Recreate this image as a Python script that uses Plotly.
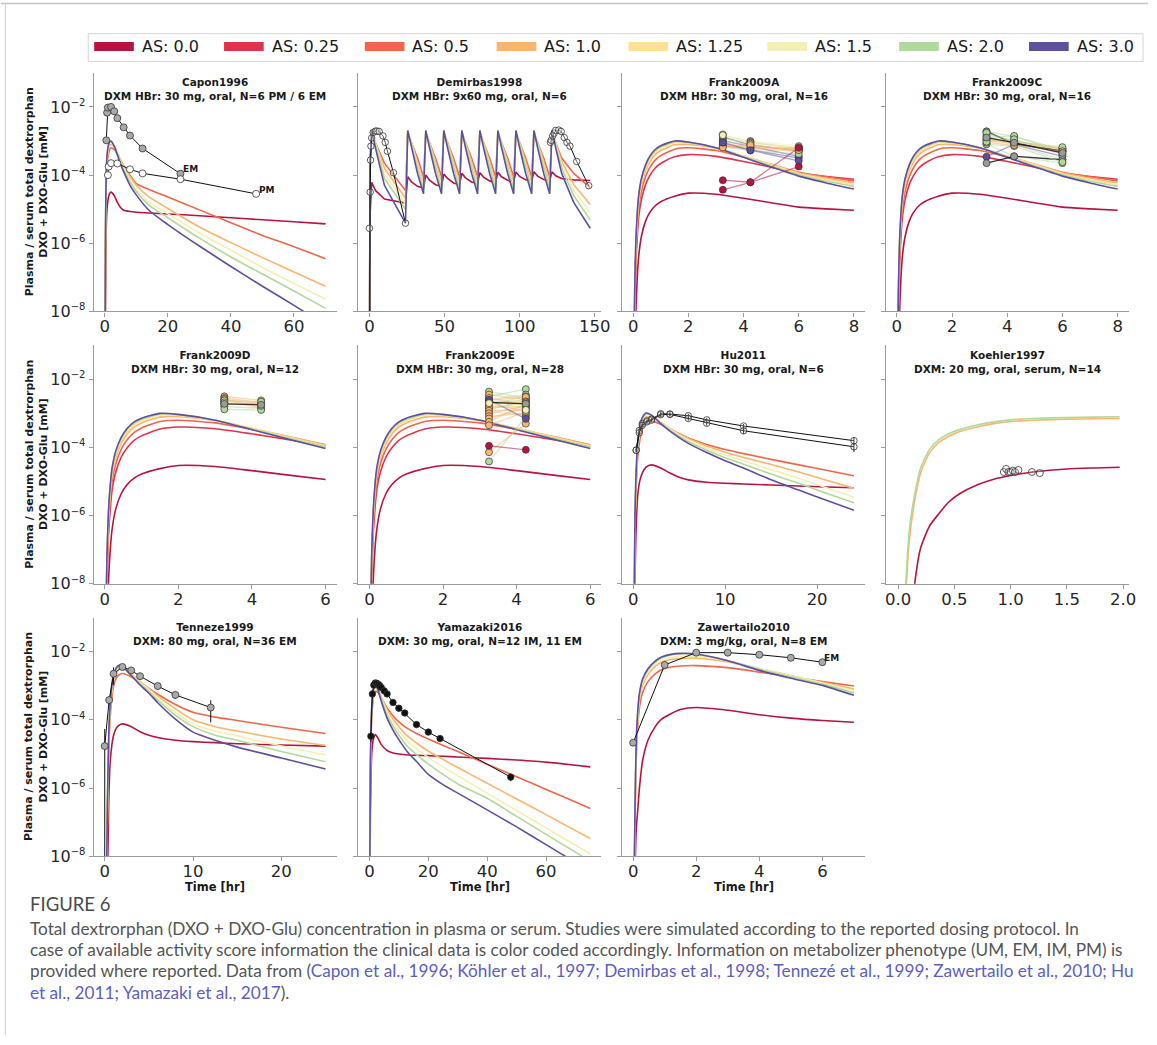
import numpy as np
import plotly.graph_objects as go

W, H = 1157, 1045

# ---------------------------------------------------------------- categories
AS_LEVELS = [0.0, 0.25, 0.5, 1.0, 1.25, 1.5, 2.0, 3.0]
AS_LABELS = ["AS: 0.0", "AS: 0.25", "AS: 0.5", "AS: 1.0", "AS: 1.25", "AS: 1.5", "AS: 2.0", "AS: 3.0"]
AS_COLORS = ["#b8133f", "#e2324b", "#f1654a", "#fdb46c", "#fee290", "#f4efb4", "#b0d99c", "#5e4fa2"]

PANEL_NAMES = ["Capon1996", "Demirbas1998", "Frank2009A", "Frank2009C", "Frank2009D", "Frank2009E",
               "Hu2011", "Koehler1997", "Tenneze1999", "Yamazaki2016", "Zawertailo2010"]
PANEL_SUBTITLES = ["DXM HBr: 30 mg, oral, N=6 PM / 6 EM", "DXM HBr: 9x60 mg, oral, N=6",
                   "DXM HBr: 30 mg, oral, N=16", "DXM HBr: 30 mg, oral, N=16",
                   "DXM HBr: 30 mg, oral, N=12", "DXM HBr: 30 mg, oral, N=28",
                   "DXM HBr: 30 mg, oral, N=6", "DXM: 20 mg, oral, serum, N=14",
                   "DXM: 80 mg, oral, N=36 EM", "DXM: 30 mg, oral, N=12 IM, 11 EM",
                   "DXM: 3 mg/kg, oral, N=8 EM"]
PANEL_XRANGES = [[-3.5, 73.5], [-7.35, 154.35], [-0.4, 8.4], [-0.4, 8.4], [-0.3, 6.3], [-0.3, 6.3],
                 [-1.2, 25.2], [-0.11, 2.05], [-1.25, 26.25], [-3.75, 78.75], [-0.35, 7.35]]
PANEL_XTICKS = [[0, 20, 40, 60], [0, 50, 100, 150], [0, 2, 4, 6, 8], [0, 2, 4, 6, 8], [0, 2, 4, 6],
                [0, 2, 4, 6], [0, 10, 20], [0.0, 0.5, 1.0, 1.5, 2.0], [0, 10, 20], [0, 20, 40, 60], [0, 2, 4, 6]]
PANEL_XTICKTEXT = [None, None, None, None, None, None, None, ["0.0", "0.5", "1.0", "1.5", "2.0"], None, None, None]
Y_TICKVALS = [1e-8, 1e-6, 1e-4, 1e-2]
Y_EXPONENTS = ["\u22128", "\u22126", "\u22124", "\u22122"]
Y_TITLE = ["Plasma / serum total dextrorphan", "DXO + DXO-Glu [mM]"]
X_TITLE = "Time [hr]"

# ---------------------------------------------------------------- simulated curves (log10 mM)
capon_t = [0.1, 0.25, 0.4, 0.6, 1.0, 1.5, 2.0, 3.0, 4.0, 5.0, 6.0, 8.0, 10.0, 14.0, 20.0, 30.0, 40.0, 50.0, 60.0, 70.0]
capon_sim = {
    0.0: [-10, -7.5, -6.0, -5.2, -4.75, -4.55, -4.5, -4.6, -4.8, -4.95, -5.03, -5.07, -5.09, -5.11, -5.14, -5.19, -5.25, -5.31, -5.37, -5.43],
    0.5: [-9.2, -6.1, -4.7, -3.95, -3.48, -3.27, -3.2, -3.25, -3.38, -3.55, -3.72, -4.0, -4.25, -4.42, -4.64, -5.02, -5.4, -5.77, -6.1, -6.45],
    1.0: [-9.1, -5.9, -4.5, -3.78, -3.33, -3.13, -3.1, -3.17, -3.35, -3.55, -3.74, -4.05, -4.3, -4.64, -4.98, -5.52, -5.98, -6.42, -6.84, -7.26],
    1.5: [-9.0, -5.8, -4.4, -3.7, -3.27, -3.08, -3.05, -3.15, -3.36, -3.58, -3.78, -4.13, -4.4, -4.79, -5.13, -5.7, -6.2, -6.71, -7.18, -7.64],
    2.0: [-9.0, -5.7, -4.35, -3.65, -3.23, -3.05, -3.02, -3.15, -3.38, -3.62, -3.84, -4.2, -4.48, -4.88, -5.25, -5.85, -6.4, -6.9, -7.4, -7.91],
    3.0: [-9.0, -5.6, -4.3, -3.6, -3.2, -3.03, -3.0, -3.15, -3.4, -3.68, -3.9, -4.3, -4.58, -5.03, -5.45, -6.08, -6.68, -7.26, -7.82, -8.4],
}

demirbas_t = [0, 0.4, 1.5, 4, 10, 24,
              25.5, 28, 32, 36, 37.5, 40, 44, 48, 49.5, 52, 56, 60, 61.5, 64, 68, 72,
              73.5, 76, 80, 84, 85.5, 88, 92, 96, 97.5, 100, 104, 108, 109.5, 112, 116, 120,
              121.5, 124, 128, 136, 147]
demirbas_sim = {
    0.0: [-12, -5.2, -4.21, -4.45, -4.7, -4.82,
          -4.05, -4.2, -4.33, -4.38, -4.0, -4.15, -4.28, -4.33, -3.97, -4.1, -4.23, -4.28, -3.95, -4.08, -4.2, -4.25,
          -3.93, -4.06, -4.17, -4.22, -3.92, -4.05, -4.15, -4.2, -3.91, -4.04, -4.14, -4.18, -3.9, -4.03, -4.13, -4.17,
          -3.9, -4.02, -4.1, -4.14, -4.16],
    0.5: [-10, -3.9, -2.82, -3.05, -3.65, -4.45,
          -2.82, -3.05, -3.5, -4.05, -2.82, -3.05, -3.5, -4.05, -2.82, -3.05, -3.5, -4.05, -2.82, -3.05, -3.5, -4.05,
          -2.82, -3.05, -3.5, -4.05, -2.82, -3.05, -3.5, -4.05, -2.82, -3.05, -3.5, -4.05, -2.82, -3.05, -3.5, -4.05,
          -2.82, -3.05, -3.5, -3.95, -4.37],
    1.0: [-10, -3.8, -2.73, -3.03, -3.8, -4.68,
          -2.73, -3.03, -3.6, -4.22, -2.73, -3.03, -3.6, -4.22, -2.73, -3.03, -3.6, -4.22, -2.73, -3.03, -3.6, -4.22,
          -2.73, -3.03, -3.6, -4.22, -2.73, -3.03, -3.6, -4.22, -2.73, -3.03, -3.6, -4.22, -2.73, -3.03, -3.6, -4.22,
          -2.73, -3.03, -3.6, -4.28, -4.86],
    1.5: [-10, -3.75, -2.71, -3.08, -3.95, -4.85,
          -2.71, -3.08, -3.7, -4.33, -2.71, -3.08, -3.7, -4.33, -2.71, -3.08, -3.7, -4.33, -2.71, -3.08, -3.7, -4.33,
          -2.71, -3.08, -3.7, -4.33, -2.71, -3.08, -3.7, -4.33, -2.71, -3.08, -3.7, -4.33, -2.71, -3.08, -3.7, -4.33,
          -2.71, -3.08, -3.7, -4.45, -5.1],
    2.0: [-10, -3.7, -2.7, -3.12, -4.1, -5.0,
          -2.7, -3.12, -3.8, -4.42, -2.7, -3.12, -3.8, -4.42, -2.7, -3.12, -3.8, -4.42, -2.7, -3.12, -3.8, -4.42,
          -2.7, -3.12, -3.8, -4.42, -2.7, -3.12, -3.8, -4.42, -2.7, -3.12, -3.8, -4.42, -2.7, -3.12, -3.8, -4.42,
          -2.7, -3.12, -3.8, -4.6, -5.32],
    3.0: [-10, -3.6, -2.69, -3.2, -4.3, -5.41,
          -2.69, -3.2, -3.95, -4.55, -2.69, -3.2, -3.95, -4.55, -2.69, -3.2, -3.95, -4.55, -2.69, -3.2, -3.95, -4.55,
          -2.69, -3.2, -3.95, -4.55, -2.69, -3.2, -3.95, -4.55, -2.69, -3.2, -3.95, -4.55, -2.69, -3.2, -3.95, -4.55,
          -2.69, -3.2, -3.95, -4.8, -5.56],
}

frank_t = [0.03, 0.06, 0.1, 0.15, 0.2, 0.3, 0.45, 0.6, 0.8, 1.0, 1.5, 2.0, 3.0, 4.0, 5.0, 6.0, 7.0, 8.0]
frank_sim = {
    0.0: [-11, -9.5, -8.0, -7.0, -6.4, -5.8, -5.35, -5.1, -4.9, -4.78, -4.62, -4.53, -4.56, -4.68, -4.81, -4.94, -4.99, -5.03],
    0.25: [-9.5, -8.0, -6.6, -5.8, -5.25, -4.72, -4.28, -4.02, -3.79, -3.66, -3.46, -3.4, -3.45, -3.6, -3.77, -3.95, -4.04, -4.12],
    0.5: [-9.3, -7.7, -6.35, -5.55, -5.0, -4.48, -4.05, -3.79, -3.56, -3.43, -3.24, -3.2, -3.28, -3.47, -3.69, -3.92, -4.05, -4.17],
    1.0: [-9.2, -7.5, -6.15, -5.35, -4.82, -4.3, -3.88, -3.62, -3.4, -3.28, -3.11, -3.1, -3.21, -3.44, -3.68, -3.93, -4.09, -4.23],
    1.25: [-9.1, -7.4, -6.05, -5.25, -4.72, -4.22, -3.8, -3.55, -3.33, -3.21, -3.05, -3.06, -3.2, -3.44, -3.7, -3.96, -4.13, -4.28],
    2.0: [-9.0, -7.3, -5.95, -5.15, -4.65, -4.15, -3.74, -3.49, -3.28, -3.17, -3.02, -3.04, -3.2, -3.46, -3.73, -3.99, -4.18, -4.33],
    3.0: [-9.0, -7.2, -5.9, -5.1, -4.6, -4.1, -3.7, -3.45, -3.25, -3.14, -3.0, -3.03, -3.2, -3.48, -3.76, -4.03, -4.23, -4.41],
}

hu_t = [0.1, 0.2, 0.3, 0.5, 0.75, 1.0, 1.4, 2.0, 3.0, 4.0, 5.0, 6.0, 8.0, 10.0, 12.0, 15.0, 18.0, 21.0, 24.0]
hu_sim = {
    0.0: [-11, -8.0, -6.6, -5.4, -4.95, -4.75, -4.58, -4.51, -4.6, -4.75, -4.87, -4.95, -5.02, -5.05, -5.07, -5.1, -5.13, -5.16, -5.18],
    0.5: [-9.3, -6.6, -5.45, -4.3, -3.75, -3.45, -3.26, -3.22, -3.32, -3.46, -3.6, -3.72, -3.91, -4.06, -4.18, -4.35, -4.51, -4.67, -4.83],
    1.0: [-9.1, -6.3, -5.2, -4.05, -3.53, -3.27, -3.1, -3.1, -3.26, -3.44, -3.6, -3.74, -3.96, -4.14, -4.29, -4.5, -4.72, -4.96, -5.2],
    1.5: [-9.0, -6.2, -5.1, -3.97, -3.46, -3.2, -3.05, -3.08, -3.27, -3.46, -3.63, -3.78, -4.02, -4.22, -4.39, -4.65, -4.9, -5.18, -5.46],
    2.0: [-9.0, -6.1, -5.0, -3.9, -3.4, -3.16, -3.02, -3.06, -3.28, -3.49, -3.67, -3.83, -4.08, -4.3, -4.49, -4.78, -5.05, -5.34, -5.62],
    3.0: [-9.0, -6.0, -4.9, -3.85, -3.35, -3.12, -2.99, -3.05, -3.3, -3.52, -3.71, -3.88, -4.15, -4.39, -4.6, -4.95, -5.25, -5.55, -5.84],
}

koehler_t = [0.05, 0.08, 0.1, 0.14, 0.2, 0.28, 0.36, 0.45, 0.55, 0.7, 0.85, 1.0, 1.2, 1.5, 1.75, 1.97]
koehler_sim = {
    0.0: [-12, -11, -10, -8.2, -6.95, -6.3, -5.95, -5.6, -5.35, -5.1, -4.93, -4.82, -4.72, -4.63, -4.6, -4.58],
    1.0: [-9.5, -7.6, -6.7, -5.7, -4.75, -4.15, -3.86, -3.67, -3.53, -3.4, -3.3, -3.24, -3.2, -3.17, -3.16, -3.15],
    2.0: [-9.0, -7.3, -6.4, -5.5, -4.6, -4.05, -3.78, -3.6, -3.47, -3.34, -3.25, -3.19, -3.15, -3.12, -3.11, -3.1],
}

tenneze_t = [0.2, 0.3, 0.45, 0.6, 0.8, 1.0, 1.3, 1.6, 2.0, 3.0, 4.0, 5.0, 6.0, 8.0, 10.0, 12.5, 15.0, 20.0, 25.0]
tenneze_sim = {
    0.0: [-12, -9, -6.5, -5.3, -4.75, -4.45, -4.25, -4.16, -4.12, -4.2, -4.35, -4.45, -4.52, -4.6, -4.64, -4.67, -4.7, -4.74, -4.77],
    0.5: [-9.5, -7.0, -5.0, -4.0, -3.38, -3.02, -2.78, -2.68, -2.64, -2.74, -2.92, -3.08, -3.25, -3.55, -3.78, -3.92, -4.02, -4.22, -4.4],
    1.0: [-9, -6.8, -4.8, -3.8, -3.2, -2.86, -2.62, -2.52, -2.5, -2.66, -2.87, -3.08, -3.3, -3.68, -4.0, -4.2, -4.33, -4.56, -4.75],
    1.5: [-9, -6.7, -4.7, -3.7, -3.1, -2.78, -2.55, -2.46, -2.47, -2.68, -2.9, -3.12, -3.36, -3.78, -4.12, -4.33, -4.47, -4.77, -5.03],
    2.0: [-9, -6.6, -4.6, -3.65, -3.05, -2.74, -2.52, -2.43, -2.45, -2.69, -2.93, -3.17, -3.42, -3.86, -4.2, -4.45, -4.6, -4.93, -5.23],
    3.0: [-9, -6.5, -4.5, -3.6, -3.0, -2.7, -2.48, -2.4, -2.43, -2.7, -2.98, -3.22, -3.5, -3.98, -4.36, -4.6, -4.8, -5.12, -5.44],
}

yamazaki_t = [0.1, 0.3, 0.6, 1.0, 1.5, 2.0, 3.0, 4.0, 6.0, 8.0, 10.0, 13.0, 16.0, 20.0, 25.0, 30.0, 40.0, 50.0, 60.0, 70.0, 75.0]
yamazaki_sim = {
    0.0: [-11, -7.0, -5.4, -4.75, -4.52, -4.43, -4.55, -4.72, -4.9, -4.97, -5.0, -5.03, -5.04, -5.05, -5.07, -5.09, -5.13, -5.18, -5.24, -5.33, -5.38],
    0.5: [-9.3, -6.0, -4.4, -3.65, -3.28, -3.17, -3.2, -3.35, -3.65, -3.88, -4.06, -4.26, -4.4, -4.56, -4.75, -4.93, -5.3, -5.67, -6.04, -6.41, -6.6],
    1.0: [-9, -5.8, -4.2, -3.48, -3.14, -3.05, -3.12, -3.32, -3.7, -3.97, -4.2, -4.48, -4.68, -4.92, -5.16, -5.4, -5.86, -6.32, -6.78, -7.25, -7.48],
    1.5: [-9, -5.7, -4.1, -3.42, -3.1, -3.02, -3.13, -3.36, -3.78, -4.08, -4.33, -4.63, -4.85, -5.1, -5.38, -5.64, -6.15, -6.66, -7.17, -7.68, -7.93],
    2.0: [-9, -5.6, -4.05, -3.38, -3.07, -3.0, -3.14, -3.4, -3.86, -4.18, -4.45, -4.78, -5.02, -5.3, -5.6, -5.88, -6.3, -6.83, -7.36, -7.88, -8.15],
    3.0: [-9, -5.5, -4.0, -3.35, -3.05, -2.98, -3.15, -3.45, -3.95, -4.3, -4.58, -4.95, -5.22, -5.6, -5.9, -6.15, -6.64, -7.14, -7.66, -8.18, -8.44],
}

zaw_t = [0.03, 0.06, 0.1, 0.15, 0.2, 0.3, 0.47, 0.7, 0.9, 1.2, 1.5, 2.0, 3.0, 4.0, 5.0, 6.0, 7.0]
zaw_sim = {
    0.0: [-11, -8.5, -7.2, -6.6, -6.0, -5.2, -4.6, -4.2, -3.98, -3.82, -3.7, -3.64, -3.72, -3.85, -3.95, -4.02, -4.07],
    0.5: [-9.2, -7.0, -5.1, -4.15, -3.65, -3.2, -2.88, -2.65, -2.53, -2.45, -2.42, -2.41, -2.47, -2.6, -2.74, -2.88, -3.01],
    1.0: [-9, -6.8, -4.9, -3.95, -3.43, -3.0, -2.67, -2.43, -2.31, -2.23, -2.2, -2.19, -2.3, -2.5, -2.7, -2.9, -3.1],
    1.5: [-9, -6.7, -4.8, -3.86, -3.35, -2.92, -2.6, -2.37, -2.25, -2.17, -2.14, -2.14, -2.27, -2.5, -2.71, -2.92, -3.15],
    2.0: [-9, -6.6, -4.7, -3.78, -3.28, -2.85, -2.54, -2.31, -2.19, -2.1, -2.07, -2.08, -2.26, -2.52, -2.74, -2.95, -3.21],
    3.0: [-9, -6.5, -4.6, -3.7, -3.22, -2.8, -2.5, -2.28, -2.16, -2.08, -2.05, -2.07, -2.27, -2.55, -2.78, -2.99, -3.28],
}

# ---------------------------------------------------------------- clinical data (log10 mM)
capon_em_t = [0.5, 0.75, 1.0, 2.0, 3.0, 4.0, 6.0, 8.0, 12.0, 24.0]
capon_em = [-2.98, -2.17, -2.02, -2.0, -2.13, -2.33, -2.6, -2.84, -3.22, -3.96]
capon_pm_t = [1.0, 1.25, 2.0, 4.0, 8.0, 12.0, 24.0, 48.0]
capon_pm = [-4.0, -3.75, -3.65, -3.66, -3.83, -3.95, -4.12, -4.55]

demirbas_obs1_t = [0, 0, 0.5, 0.75, 1, 1.5, 2.5, 4, 5, 6.5, 9, 10.5, 12, 16, 24]
demirbas_obs1 = [-12, -5.56, -4.5, -3.56, -3.15, -2.91, -2.75, -2.71, -2.71, -2.72, -2.85, -3.04, -3.3, -3.93, -5.41]
demirbas_obs2_t = [120.5, 121, 122, 123, 124, 126, 127.7, 129.7, 131.5, 133.5, 138, 146]
demirbas_obs2 = [-3.04, -2.98, -2.85, -2.77, -2.69, -2.68, -2.72, -2.9, -3.04, -3.15, -3.6, -4.31]

frankA_t = [3.25, 4.25, 6.0]
frankA_as = [1.5, 1.25, 3.0, 2.0, 3.0, 2.0, 1.0, 1.0, 3.0, 1.0, 2.0, 1.5, 1.0, 3.0, 0.0, 0.0]
frankA_vals = [[-2.81, -3.0, -3.15], [-2.85, -3.02, -3.2], [-2.88, -3.12, -3.28], [-2.94, -3.05, -3.22],
               [-2.99, -3.15, -3.45], [-3.03, -3.1, -3.3], [-3.06, -3.18, -3.22], [-3.1, -3.2, -3.25],
               [-3.13, -3.25, -3.5], [-3.15, -3.22, -3.3], [-3.17, -3.28, -3.38], [-2.83, -3.08, -3.18],
               [-3.19, -3.12, -3.27], [-3.05, -3.27, -3.58], [-4.15, -4.21, -3.2], [-4.43, -4.21, -3.75]]

frankC_t = [3.25, 4.25, 6.0]
frankC_as = [2.0, 2.0, 2.0, 1.0, 1.0, 2.0, 2.0, 3.0, None, None, 1.0, 2.0, 2.0, 1.0, 2.0, None]
frankC_vals = [[-2.72, -2.87, -3.25], [-2.8, -2.98, -3.3], [-2.9, -2.85, -3.35], [-3.0, -3.08, -3.28],
               [-2.97, -3.05, -3.24], [-3.08, -3.45, -3.65], [-2.85, -3.1, -3.55], [-3.46, -3.1, -3.45],
               [-2.72, -3.08, -3.3], [-3.65, -3.45, -3.55], [-2.95, -3.0, -3.22], [-3.1, -3.15, -3.62],
               [-2.76, -3.02, -3.18], [-3.05, -3.12, -3.3], [-3.02, -2.95, -3.4], [-2.9, -3.05, -3.35]]

frankD_t = [3.25, 4.25]
frankD_as = [1.0, 1.0, 1.0, 1.0, 1.0, 1.0, 1.0, 2.0, 2.0, 2.0, 1.5, None]
frankD_vals = [[-2.5, -2.62], [-2.55, -2.68], [-2.6, -2.72], [-2.65, -2.75], [-2.7, -2.8], [-2.75, -2.7],
               [-2.58, -2.85], [-2.8, -2.85], [-2.88, -2.9], [-2.62, -2.66], [-2.68, -2.78], [-2.72, -2.75]]

frankE_t = [3.25, 4.25]
frankE_as = [2.0, 2.0, 2.0, 2.0, 2.0, 2.0, 2.0, 2.0, 2.0, 2.0, 1.0, 1.0, 1.0, 1.0, 1.0, 1.0, 1.0, 1.0,
             1.0, 1.0, 1.0, 1.0, 1.0, 1.0, 3.0, None, 1.5, 0.0]
frankE_vals = [[-2.36, -2.55], [-2.5, -2.29], [-2.6, -2.45], [-2.65, -2.7], [-2.7, -2.6], [-2.75, -2.5],
               [-2.8, -2.85], [-2.9, -2.62], [-2.95, -3.05], [-4.41, -3.1], [-2.45, -2.6], [-2.55, -2.75],
               [-2.62, -2.52], [-2.68, -2.95], [-2.72, -2.65], [-2.78, -2.8], [-2.85, -2.68], [-2.92, -2.9],
               [-3.0, -2.78], [-3.08, -3.0], [-3.15, -2.85], [-3.25, -2.72], [-3.35, -2.95], [-4.14, -3.3],
               [-2.6, -3.16], [-2.68, -2.72], [-2.7, -2.9], [-3.95, -4.07]]

hu_obs_t = [0.33, 0.67, 1.0, 1.5, 2.0, 3.0, 4.0, 6.0, 8.0, 12.0, 24.0]
hu_obs_a = [-4.08, -3.5, -3.3, -3.22, -3.17, -3.01, -3.02, -3.07, -3.19, -3.37, -3.8]
hu_obs_b = [-4.08, -3.57, -3.35, -3.25, -3.2, -3.04, -3.03, -3.15, -3.29, -3.51, -3.98]
hu_sd_a = [1e-5, 4e-5, 5e-5, 6e-5, 6e-5, 1.2e-4, 1.2e-4, 1.2e-4, 8e-5, 6e-5, 4e-5]
hu_sd_b = [1e-5, 4e-5, 5e-5, 6e-5, 6e-5, 1.2e-4, 1.2e-4, 1e-4, 8e-5, 6e-5, 3e-5]

koehler_obs_t = [0.94, 0.96, 0.98, 1.0, 1.02, 1.04, 1.07, 1.19, 1.26]
koehler_obs = [-4.72, -4.63, -4.72, -4.72, -4.68, -4.72, -4.66, -4.72, -4.75]

tenneze_obs_t = [0, 0.5, 1, 2, 3, 4, 6, 8, 12]
tenneze_obs = [-4.77, -3.42, -2.65, -2.45, -2.55, -2.72, -3.01, -3.27, -3.64]
tenneze_sd = [3.7e-5, 1.0e-4, 1.2e-3, 6e-4, 4e-4, 3e-4, 2e-4, 1.3e-4, 1.45e-4]

yamazaki_obs_t = [0.5, 1, 1.5, 2, 2.5, 3, 3.5, 4, 5, 6, 8, 10, 12, 16, 20, 24, 48]
yamazaki_obs = [-4.48, -3.24, -2.98, -2.92, -2.93, -2.96, -3.0, -3.05, -3.15, -3.24, -3.49, -3.66, -3.8,
                -4.14, -4.36, -4.55, -5.68]
yamazaki_sd = [1e-5, 1.5e-4, 2e-4, 2e-4, 2e-4, 1.8e-4, 1.6e-4, 1.4e-4, 1.2e-4, 1e-4, 6e-5, 4e-5, 3e-5,
               1.2e-5, 8e-6, 5e-6, 5e-7]

zaw_obs_t = [0, 1, 2, 3, 4, 5, 6]
zaw_obs = [-4.67, -2.39, -2.03, -2.03, -2.09, -2.18, -2.31]

CAPTION_HEAD = "FIGURE 6"
CAPTION_LINES = [
    "Total dextrorphan (DXO + DXO-Glu) concentration in plasma or serum. Studies were simulated according to the reported dosing protocol. In",
    "case of available activity score information the clinical data is color coded accordingly. Information on metabolizer phenotype (UM, EM, IM, PM) is",
    "provided where reported. Data from (",
    ")."]
CAPTION_REFS = ["Capon et al., 1996; K\u00f6hler et al., 1997; Demirbas et al., 1998; Tennez\u00e9 et al., 1999; Zawertailo et al., 2010; Hu",
                "et al., 2011; Yamazaki et al., 2017"]

# ---------------------------------------------------------------- layout geometry (pixels)
COL_LEFT = [93.5, 360.5, 626.5, 892.5]
COL_W = 245.0
ROW_TOP = [73.5, 348.5, 623.5]
ROW_H = 241.0
GRID = [(0, 0), (0, 1), (0, 2), (0, 3), (1, 0), (1, 1), (1, 2), (1, 3), (2, 0), (2, 1), (2, 2)]

FONT = "DejaVu Sans"
SPINE = "#9b9b9b"
TXT = "#262626"


def conc(v):
    return [10.0 ** e for e in v]


def col_of(a):
    if a is None:
        return "#222222"
    return AS_COLORS[AS_LEVELS.index(a)]


def rgba(hexc, a):
    hexc = hexc.lstrip("#")
    r, g, b = int(hexc[0:2], 16), int(hexc[2:4], 16), int(hexc[4:6], 16)
    return f"rgba({r},{g},{b},{a})"


fig = go.Figure()
XR, YR = [], []
for i in range(len(PANEL_NAMES)):
    XR.append("x" if i == 0 else f"x{i + 1}")
    YR.append("y" if i == 0 else f"y{i + 1}")


def add_curves(pi, t, sim, shape="spline"):
    for a in AS_LEVELS:
        if a in sim:
            vals = sim[a]
            fig.add_trace(go.Scatter(x=t[:len(vals)], y=conc(vals), mode="lines",
                                     line=dict(color=col_of(a), width=1.6, shape=shape, smoothing=0.6),
                                     xaxis=XR[pi], yaxis=YR[pi], showlegend=False, hoverinfo="skip"))


def add_obs(pi, t, vals, fill, edge="#333333", size=7, lw=1.0, lcolor="#111111", sd=None, mode="lines+markers"):
    kw = {}
    if sd is not None:
        kw["error_y"] = dict(type="data", array=sd, visible=True, color="#111111", thickness=1.0, width=0)
    fig.add_trace(go.Scatter(x=t, y=conc(vals), mode=mode,
                             line=dict(color=lcolor, width=lw),
                             marker=dict(size=size, color=fill, line=dict(color=edge, width=0.8)),
                             xaxis=XR[pi], yaxis=YR[pi], showlegend=False, hoverinfo="skip", **kw))


def add_subjects(pi, t, as_list, vals_list):
    for a, v in zip(as_list, vals_list):
        c = col_of(a)
        lc = "rgba(20,20,20,0.85)" if a is None else rgba(c, 0.55)
        mc = "#9a9a9a" if a is None else c
        fig.add_trace(go.Scatter(x=t, y=conc(v), mode="lines+markers",
                                 line=dict(color=lc, width=1.3),
                                 marker=dict(size=7, color=mc, line=dict(color="#333333", width=0.7)),
                                 xaxis=XR[pi], yaxis=YR[pi], showlegend=False, hoverinfo="skip"))


# Capon1996
add_curves(0, capon_t, capon_sim)
add_obs(0, capon_em_t, capon_em, "#a9a9a9")
add_obs(0, capon_pm_t, capon_pm, "#ffffff")
# Demirbas1998
add_curves(1, demirbas_t, demirbas_sim, shape="linear")
add_obs(1, demirbas_obs1_t, demirbas_obs1, "rgba(255,255,255,0.3)", size=6.5)
add_obs(1, demirbas_obs2_t, demirbas_obs2, "rgba(255,255,255,0.3)", size=6.5)
# Frank
frank_short = {k: v[:16] for k, v in frank_sim.items()}
add_curves(2, frank_t, frank_sim)
add_subjects(2, frankA_t, frankA_as, frankA_vals)
add_curves(3, frank_t, frank_sim)
add_subjects(3, frankC_t, frankC_as, frankC_vals)
add_curves(4, frank_t, frank_short)
add_subjects(4, frankD_t, frankD_as, frankD_vals)
add_curves(5, frank_t, frank_short)
add_subjects(5, frankE_t, frankE_as, frankE_vals)
# Hu2011
add_curves(6, hu_t, hu_sim)
add_obs(6, hu_obs_t, hu_obs_a, "rgba(255,255,255,0.2)", sd=hu_sd_a, size=6.5)
add_obs(6, hu_obs_t, hu_obs_b, "rgba(255,255,255,0.2)", sd=hu_sd_b, size=6.5)
# Koehler1997
add_curves(7, koehler_t, koehler_sim)
add_obs(7, koehler_obs_t, koehler_obs, "rgba(255,255,255,0.2)", mode="markers", size=7)
# Tenneze1999
add_curves(8, tenneze_t, tenneze_sim)
add_obs(8, tenneze_obs_t, tenneze_obs, "#a9a9a9", sd=tenneze_sd)
# Yamazaki2016
add_curves(9, yamazaki_t, yamazaki_sim)
add_obs(9, yamazaki_obs_t, yamazaki_obs, "#111111", sd=yamazaki_sd, size=6.5)
# Zawertailo2010
add_curves(10, zaw_t, zaw_sim)
add_obs(10, zaw_obs_t, zaw_obs, "#a9a9a9")

# ---------------------------------------------------------------- axes
y_ticktext = [f"10<sup><span style='font-size:10px'>{e}</span></sup>" for e in Y_EXPONENTS]
layout = {}
annotations = []
shapes = []
for i, (r, c) in enumerate(GRID):
    xname = "xaxis" if i == 0 else f"xaxis{i + 1}"
    yname = "yaxis" if i == 0 else f"yaxis{i + 1}"
    x0 = COL_LEFT[c] / W
    x1 = (COL_LEFT[c] + COL_W) / W
    y1 = 1 - ROW_TOP[r] / H
    y0 = 1 - (ROW_TOP[r] + ROW_H) / H
    xa = dict(domain=[x0, x1], anchor=YR[i], range=PANEL_XRANGES[i], tickvals=PANEL_XTICKS[i],
              showline=True, linecolor=SPINE, linewidth=1.1, ticks="outside", ticklen=4, tickwidth=1,
              tickcolor=SPINE, tickfont=dict(family=FONT, size=16.5, color=TXT), showgrid=False, zeroline=False,
              ticklabelstandoff=-4)
    if PANEL_XTICKTEXT[i] is not None:
        xa["ticktext"] = PANEL_XTICKTEXT[i]
    ya = dict(domain=[y0, y1], anchor=XR[i], type="log", range=[-8, -1], tickvals=Y_TICKVALS,
              ticktext=y_ticktext, showticklabels=(c == 0), showline=True, linecolor=SPINE, linewidth=1.1,
              ticks="outside", ticklen=4, tickwidth=1, tickcolor=SPINE,
              tickfont=dict(family=FONT, size=16, color=TXT), showgrid=False, zeroline=False)
    layout[xname] = xa
    layout[yname] = ya
    xc = (COL_LEFT[c] + COL_W / 2) / W
    annotations.append(dict(xref="paper", yref="paper", x=xc, y=1 - (ROW_TOP[r] + 1.5) / H,
                            xanchor="center", yanchor="top", showarrow=False, align="center",
                            text=f"{PANEL_NAMES[i]}<br>{PANEL_SUBTITLES[i]}",
                            font=dict(family=FONT, size=10.5, color="#1a1a1a", weight="bold")))
    if c == 0:
        annotations.append(dict(xref="paper", yref="paper", x=35.5 / W, y=1 - (ROW_TOP[r] + ROW_H / 2) / H,
                                xanchor="center", yanchor="middle", showarrow=False, textangle=-90,
                                text=f"{Y_TITLE[0]}<br>{Y_TITLE[1]}",
                                font=dict(family=FONT, size=11, color="#1a1a1a", weight="bold")))
    if r == 2:
        annotations.append(dict(xref="paper", yref="paper", x=xc, y=1 - 896 / H,
                                xanchor="center", yanchor="middle", showarrow=False, text=X_TITLE,
                                font=dict(family=FONT, size=11.5, color="#1a1a1a", weight="bold")))

# phenotype labels
for pi, tx, ly, lab in [(0, 24.3, -3.83, "EM"), (0, 48.2, -4.43, "PM"), (10, 6.0, -2.19, "EM")]:
    annotations.append(dict(xref=XR[pi], yref=YR[pi], x=tx, y=ly, xanchor="left", yanchor="middle",
                            showarrow=False, text=lab, font=dict(family=FONT, size=9, color="#1a1a1a", weight="bold")))

# ---------------------------------------------------------------- legend (manual, top)
LEG_SWATCH_X = [94, 225, 367, 500, 633, 773, 906, 1037]
shapes.append(dict(type="rect", xref="paper", yref="paper", x0=88 / W, x1=1152 / W, y0=1 - 62 / H, y1=1 - 34 / H,
                   line=dict(color="#d6d6d6", width=1), fillcolor="white", layer="below"))
for k, lab in enumerate(AS_LABELS):
    sx = LEG_SWATCH_X[k]
    shapes.append(dict(type="rect", xref="paper", yref="paper", x0=sx / W, x1=(sx + 40) / W,
                       y0=1 - 51.5 / H, y1=1 - 42.5 / H, line=dict(width=0), fillcolor=AS_COLORS[k]))
    annotations.append(dict(xref="paper", yref="paper", x=(sx + 46) / W, y=1 - 47 / H, xanchor="left",
                            yanchor="middle", showarrow=False, text=lab,
                            font=dict(family=FONT, size=16, color="#1a1a1a")))

# page frame lines
shapes.append(dict(type="line", xref="paper", yref="paper", x0=0, x1=1, y0=1 - 3.5 / H, y1=1 - 3.5 / H,
                   line=dict(color="#c4c4c4", width=1.5)))
shapes.append(dict(type="line", xref="paper", yref="paper", x0=4.5 / W, x1=4.5 / W, y0=0, y1=1 - 3.5 / H,
                   line=dict(color="#d4d4d4", width=1.2)))

# ---------------------------------------------------------------- caption
CAP_FONT = "Lato"
CAP_GREY = "#555555"
CAP_LINK = "#5c5ec2"
annotations.append(dict(xref="paper", yref="paper", x=27 / W, y=1 - 913 / H, xanchor="left", yanchor="middle",
                        showarrow=False, text=CAPTION_HEAD,
                        font=dict(family=CAP_FONT, size=18.5, color="#4a4a4a")))
cap_texts = [
    CAPTION_LINES[0],
    CAPTION_LINES[1],
    CAPTION_LINES[2] + f'<span style="color:{CAP_LINK}">{CAPTION_REFS[0]}</span>',
    f'<span style="color:{CAP_LINK}">{CAPTION_REFS[1]}</span>' + CAPTION_LINES[3],
]
for j, tx in enumerate(cap_texts):
    annotations.append(dict(xref="paper", yref="paper", x=27 / W, y=1 - (937 + 21.6 * j) / H, xanchor="left",
                            yanchor="middle", showarrow=False, text=tx, align="left",
                            font=dict(family=CAP_FONT, size=17.2, color=CAP_GREY)))

fig.update_layout(width=W, height=H, autosize=False, margin=dict(l=0, r=0, t=0, b=0),
                  paper_bgcolor="white", plot_bgcolor="white", showlegend=False,
                  annotations=annotations, shapes=shapes, **layout)

fig.write_html("out.html", include_plotlyjs=True, config={"displayModeBar": False})
